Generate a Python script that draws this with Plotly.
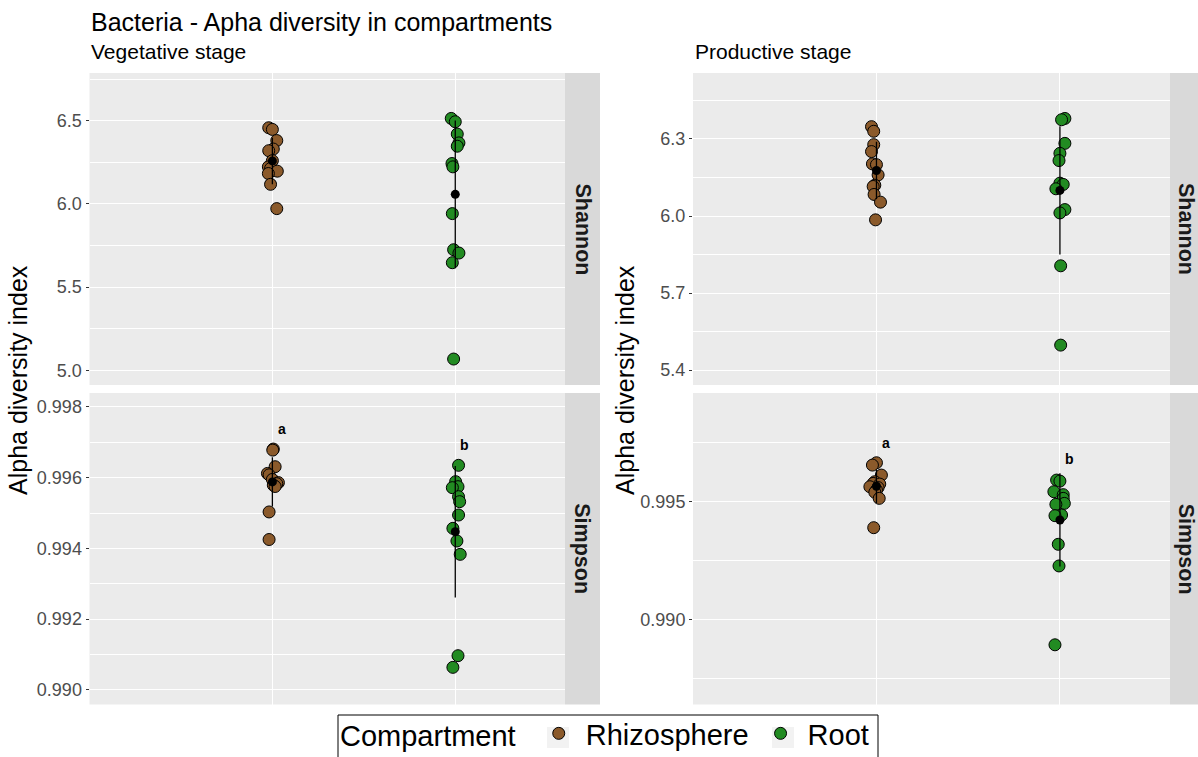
import numpy as np
import plotly.graph_objects as go

compartments = ["Rhizosphere", "Root"]
comp_colors = ["#8B5A2B", "#228B22"]
stages = ["Vegetative stage", "Productive stage"]
indices = ["Shannon", "Simpson"]
sig_letters = ["a", "b"]

# vegetative stage, Shannon
veg_sha_rhizo = [6.458, 6.448, 6.381, 6.33, 6.32, 6.26, 6.223, 6.213, 6.197, 6.183, 6.118, 5.972]
veg_sha_rhizo_jit = [-0.02, 0, 0.024, 0.005, -0.02, 0, -0.022, -0.01, 0.027, -0.022, -0.01, 0.024]
veg_sha_root = [6.514, 6.494, 6.420, 6.367, 6.347, 6.243, 6.223, 5.942, 5.725, 5.705, 5.647, 5.068]
veg_sha_root_jit = [-0.022, 0, 0.011, 0.02, 0.011, -0.018, -0.013, -0.016, -0.009, 0.02, -0.016, -0.009]

# vegetative stage, Simpson
veg_sim_rhizo = [0.99681, 0.99678, 0.99631, 0.99612, 0.99608, 0.99595,
                 0.99586, 0.99583, 0.99579, 0.99575, 0.99503, 0.99425]
veg_sim_rhizo_jit = [0.005, 0.002, 0.015, -0.027, -0.018, 0, 0.033, 0.024, 0.005, 0.015, -0.018, -0.018]
veg_sim_root = [0.996349, 0.995887, 0.995745, 0.995717, 0.995462, 0.995321,
                0.994943, 0.994566, 0.994208, 0.993830, 0.990962, 0.990632]
veg_sim_root_jit = [0.018, 0.002, 0.015, -0.016, 0.018, 0.024, 0.018, -0.013, 0.009, 0.027, 0.015, -0.013]
veg_sim_letter_y = [0.99738, 0.99693]

# productive stage, Shannon
pro_sha_rhizo = [6.348, 6.330, 6.278, 6.251, 6.203, 6.200, 6.160, 6.12, 6.115, 6.084, 6.054, 5.985]
pro_sha_rhizo_jit = [-0.027, -0.015, -0.015, -0.027, -0.022, 0, 0.009, -0.009, -0.018, -0.013, 0.022, -0.005]
pro_sha_root = [6.380, 6.375, 6.283, 6.244, 6.216, 6.128, 6.123, 6.106, 6.025, 6.012, 5.806, 5.497]
pro_sha_root_jit = [0.027, 0.009, 0.027, 0, -0.005, 0, 0.018, -0.022, 0.027, 0, 0.004, 0.004]

# productive stage, Simpson
pro_sim_rhizo = [0.996656, 0.996557, 0.996132, 0.99585, 0.995778, 0.99575,
                 0.995637, 0.99560, 0.995495, 0.99540, 0.995142, 0.993896]
pro_sim_rhizo_jit = [0, -0.022, 0.027, -0.009, -0.018, 0.018, -0.036, 0.009, 0, -0.009, 0.015, -0.015]
pro_sim_root = [0.995920, 0.995877, 0.995425, 0.9953, 0.995142, 0.994929,
                0.994887, 0.994434, 0.994406, 0.993189, 0.992269, 0.988916]
pro_sim_root_jit = [-0.018, 0, -0.033, 0.018, 0.018, 0.024, -0.022, 0.009, -0.027, -0.009, -0.005, -0.027]
pro_sim_letter_y = [0.99748, 0.99681]

FONT = "Liberation Sans, Arial, sans-serif"

panels = [
    # xaxis, yaxis, [rhizo, root], [jitters], letters y
    ("x", "y", [veg_sha_rhizo, veg_sha_root], [veg_sha_rhizo_jit, veg_sha_root_jit], None),
    ("x2", "y2", [veg_sim_rhizo, veg_sim_root], [veg_sim_rhizo_jit, veg_sim_root_jit], veg_sim_letter_y),
    ("x3", "y3", [pro_sha_rhizo, pro_sha_root], [pro_sha_rhizo_jit, pro_sha_root_jit], None),
    ("x4", "y4", [pro_sim_rhizo, pro_sim_root], [pro_sim_rhizo_jit, pro_sim_root_jit], pro_sim_letter_y),
]

fig = go.Figure()
annotations = []
for p, (xa, ya, groups, jits, letter_y) in enumerate(panels):
    for i, comp in enumerate(compartments):
        pos = i + 1
        vals = np.array(groups[i])
        fig.add_trace(go.Scatter(
            x=pos + np.array(jits[i]), y=vals, mode="markers",
            xaxis=xa, yaxis=ya, name=comp, legendgroup=comp,
            showlegend=(p == 0),
            marker=dict(size=12, color=comp_colors[i], line=dict(color="black", width=1)),
        ))
    # mean +/- sd
    for i, comp in enumerate(compartments):
        vals = np.array(groups[i])
        fig.add_trace(go.Scatter(
            x=[i + 1], y=[vals.mean()], mode="markers",
            xaxis=xa, yaxis=ya, showlegend=False,
            marker=dict(size=9, color="black"),
            error_y=dict(type="data", array=[vals.std(ddof=1)], color="black",
                         thickness=1.3, width=0),
        ))
    if letter_y is not None:
        for i, lab in enumerate(sig_letters):
            annotations.append(dict(
                x=i + 1 + 0.05, y=letter_y[i], xref=xa, yref=ya, text="<b>%s</b>" % lab,
                xanchor="center", yanchor="middle",
                showarrow=False, font=dict(size=14, color="black", family=FONT),
            ))

# figure is a little taller than the window (its bottom strip falls off-screen,
# like the legend frame in the original); positions are in window pixels
W, H = 1198, 771


def px(v):
    return v / W


def py(v):
    return 1 - v / H


left_dom = [px(89.5), px(565)]
right_dom = [px(693), px(1170)]
top_dom = [py(385), py(73)]
bot_dom = [py(704.5), py(393)]

xbase = dict(range=[0, 2.6], tickvals=[1, 2], showticklabels=False, ticks="",
             showgrid=True, gridcolor="white", gridwidth=1.4, zeroline=False, showline=False)


def ybase(rng, tv, tt, minor):
    return dict(range=rng, tickvals=tv, ticktext=tt, ticks="outside", ticklen=3, tickwidth=1,
                tickcolor="#333333", tickfont=dict(size=18, color="#4D4D4D", family=FONT),
                showgrid=True, gridcolor="white", gridwidth=1.4, zeroline=False, showline=False,
                minor=dict(tickvals=minor, showgrid=True, gridcolor="white", gridwidth=0.7, ticks=""))


layout = dict(
    width=W, height=H, margin=dict(l=0, r=0, t=0, b=0),
    plot_bgcolor="#EBEBEB", paper_bgcolor="white",
    font=dict(family=FONT, color="black"),
    xaxis=dict(xbase, domain=left_dom, anchor="y"),
    xaxis2=dict(xbase, domain=left_dom, anchor="y2"),
    xaxis3=dict(xbase, domain=right_dom, anchor="y3"),
    xaxis4=dict(xbase, domain=right_dom, anchor="y4"),
    yaxis=dict(ybase([4.912, 6.787], [5, 5.5, 6, 6.5], ["5.0", "5.5", "6.0", "6.5"],
                     [5.25, 5.75, 6.25, 6.75]), domain=top_dom, anchor="x"),
    yaxis2=dict(ybase([0.989581, 0.998396], [0.990, 0.992, 0.994, 0.996, 0.998],
                      ["0.990", "0.992", "0.994", "0.996", "0.998"],
                      [0.991, 0.993, 0.995, 0.997]), domain=bot_dom, anchor="x2"),
    yaxis3=dict(ybase([5.3416, 6.5571], [5.4, 5.7, 6.0, 6.3], ["5.4", "5.7", "6.0", "6.3"],
                      [5.55, 5.85, 6.15, 6.45]), domain=top_dom, anchor="x3"),
    yaxis4=dict(ybase([0.986378, 0.999622], [0.990, 0.995], ["0.990", "0.995"],
                      [0.9875, 0.9925, 0.9975]), domain=bot_dom, anchor="x4"),
    showlegend=True,
    legend=dict(orientation="h", x=px(338), xanchor="left", y=py(708), yanchor="top",
                borderwidth=0, bgcolor="rgba(0,0,0,0)",
                font=dict(size=29, family=FONT, color="black"),
                title=dict(text="Compartment ", side="left", font=dict(size=29, family=FONT)),
                itemsizing="trace", itemwidth=44),
)

shapes = []
# legend frame and grey key squares, drawn beneath the transparent legend
shapes.append(dict(type="rect", xref="paper", yref="paper", x0=px(338), x1=px(878),
                   y0=-0.05, y1=py(715), fillcolor="white",
                   line=dict(color="black", width=1), layer="above"))
for kx in [558, 783]:
    shapes.append(dict(type="rect", xref="paper", yref="paper", x0=px(kx - 11), x1=px(kx + 11),
                       y0=py(748), y1=py(727), fillcolor="#F2F2F2", line=dict(width=0), layer="above"))

# facet strips
strip_x = [(565, 600, 582.5), (1170, 1198, 1186)]
strip_y = [(73, 385), (393, 704.5)]
for sx0, sx1, sxc in strip_x:
    for r, (sy0, sy1) in enumerate(strip_y):
        shapes.append(dict(type="rect", xref="paper", yref="paper", x0=px(sx0), x1=px(sx1),
                           y0=py(sy1), y1=py(sy0), fillcolor="#D9D9D9", line=dict(width=0), layer="below"))
        annotations.append(dict(x=px(sxc), y=py((sy0 + sy1) / 2), xref="paper", yref="paper",
                                xanchor="center", yanchor="middle",
                                text="<b>%s</b>" % indices[r], textangle=90, showarrow=False,
                                font=dict(size=21.5, color="#1A1A1A", family=FONT)))

# titles
annotations.append(dict(x=px(89), y=py(22), xref="paper", yref="paper", xanchor="left",
                        yanchor="middle", text="Bacteria - Apha diversity in compartments",
                        showarrow=False, font=dict(size=25, family=FONT)))
for sx, st in zip([89, 693], stages):
    annotations.append(dict(x=px(sx), y=py(52), xref="paper", yref="paper", xanchor="left",
                            yanchor="middle", text=st, showarrow=False,
                            font=dict(size=21, family=FONT)))
for ax_x in [18, 625]:
    annotations.append(dict(x=px(ax_x), y=py(380), xref="paper", yref="paper",
                            xanchor="center", yanchor="middle",
                            text="Alpha diversity index", textangle=-90, showarrow=False,
                            font=dict(size=25, family=FONT)))

layout["shapes"] = shapes
layout["annotations"] = annotations
fig.update_layout(layout)

fig.write_html("out.html", config={"displayModeBar": False},
               post_script="document.body.style.margin='0';")
